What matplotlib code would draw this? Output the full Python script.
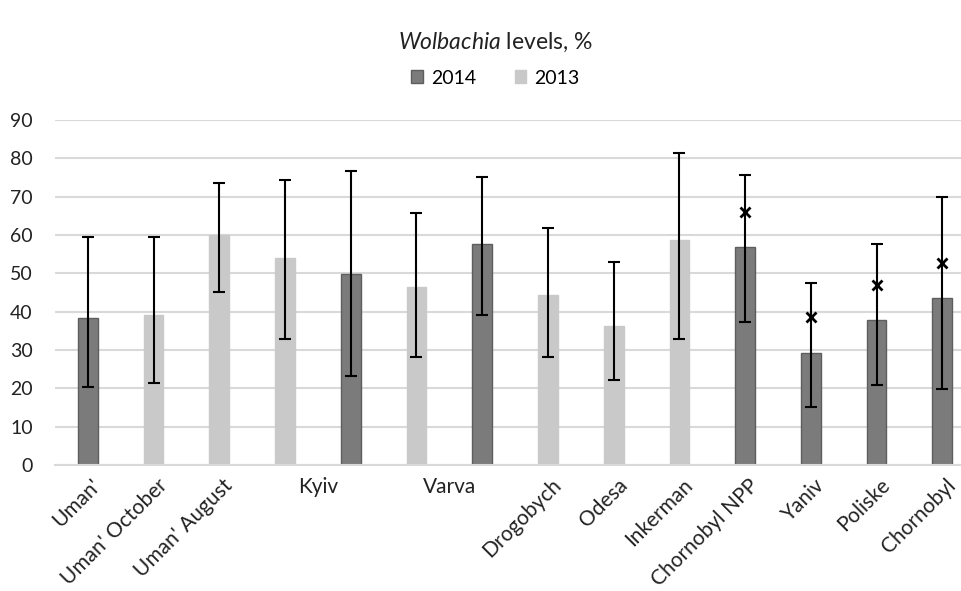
import numpy as np
import matplotlib.pyplot as plt
from matplotlib.patches import Patch

plt.rcParams['font.family'] = ['Lato', 'DejaVu Sans']
plt.rcParams['mathtext.fontset'] = 'custom'
plt.rcParams['mathtext.it'] = 'Lato:italic'
plt.rcParams['mathtext.rm'] = 'Lato'

# one bar per slot, left to right
labels = ["Uman'", "Uman' October", "Uman' August", "Kyiv", "Kyiv", "Varva", "Varva",
          "Drogobych", "Odesa", "Inkerman", "Chornobyl NPP", "Yaniv", "Poliske", "Chornobyl"]
years = [2014, 2013, 2013, 2013, 2014, 2013, 2014, 2013, 2013, 2013, 2014, 2014, 2014, 2014]
values = [38.3, 39.1, 60.0, 53.9, 49.8, 46.4, 57.7, 44.3, 36.3, 58.7, 56.8, 29.3, 37.8, 43.6]
err_low = [20.4, 21.5, 45.2, 32.8, 23.2, 28.3, 39.1, 28.1, 22.2, 33.0, 37.4, 15.2, 20.9, 19.9]
err_high = [59.4, 59.4, 73.5, 74.4, 76.7, 65.7, 75.2, 61.9, 53.0, 81.5, 75.6, 47.6, 57.7, 70.0]
stars = [None, None, None, None, None, None, None, None, None, None, 66.1, 38.5, 47.0, 52.8]

c2014 = '#7b7b7b'
c2013 = '#c9c9c9'
txt = '#222222'

x = np.arange(len(values))
vals = np.array(values)
lo = vals - np.array(err_low)
hi = np.array(err_high) - vals

fig = plt.figure(figsize=(9.62, 5.91), dpi=100)
ax = fig.add_axes([55/962, 1 - 465/591, 907/962, 345/591])

colors = [c2014 if y == 2014 else c2013 for y in years]
edges = ['#5e5e5e' if y == 2014 else c2013 for y in years]
ax.bar(x, vals, width=0.3, color=colors, edgecolor=edges, linewidth=1, zorder=2)
ax.errorbar(x, vals, yerr=[lo, hi], fmt='none', ecolor='black', elinewidth=1.5,
            capsize=4, capthick=1.5, zorder=3)
for xi, s in zip(x, stars):
    if s is not None:
        ax.plot(xi, s, marker='x', color='black', markersize=7.5, mew=2, zorder=4)

ax.set_ylim(0, 90)
ax.set_xlim(-0.5, 13.3)
ax.set_yticks(np.arange(0, 91, 10))
ax.yaxis.grid(True, color='#d9d9d9', linewidth=1.5, zorder=0)
ax.set_axisbelow(True)
for sp in ['top', 'right', 'left']:
    ax.spines[sp].set_visible(False)
ax.spines['bottom'].set_color('#d9d9d9')
ax.spines['bottom'].set_linewidth(1.5)
ax.tick_params(axis='y', length=0, labelsize=14, pad=16, labelcolor=txt)
ax.tick_params(axis='x', length=0)
ax.set_xticks([])

# category labels: single-bar categories rotated, two-bar ones flat in the middle
done = []
for i, name in enumerate(labels):
    if name in done:
        continue
    done.append(name)
    idx = [j for j, n in enumerate(labels) if n == name]
    if len(idx) == 1:
        ax.text(idx[0] + 0.05, -2.6, name, rotation=45, ha='right', va='top',
                rotation_mode='anchor', fontsize=15, color=txt)
    else:
        ax.text(np.mean(idx), -3.2, name, ha='center', va='top', fontsize=15,
                color=txt)

fig.text(0.515, 0.929, r'$\it{Wolbachia}$ levels, %', ha='center', va='center',
         fontsize=16.5, color=txt)
handles = [Patch(facecolor=c2014, edgecolor='#5e5e5e', label='2014'),
           Patch(facecolor=c2013, edgecolor=c2013, label='2013')]
fig.legend(handles=handles, loc='center', bbox_to_anchor=(0.515, 0.868), ncol=2,
           frameon=False, fontsize=14, handlelength=0.6, handleheight=0.6,
           handletextpad=0.4, columnspacing=2.0)

fig.savefig('out.png', dpi=100)
